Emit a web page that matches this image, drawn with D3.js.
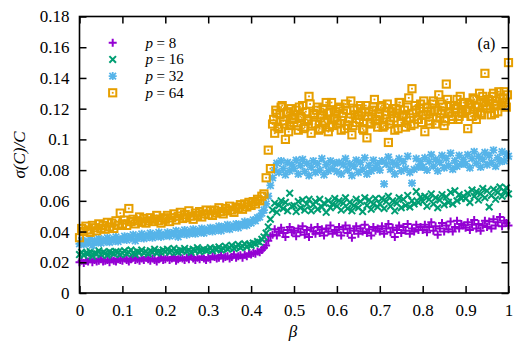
<!DOCTYPE html>
<html>
<head>
<meta charset="utf-8">
<script src="https://cdn.jsdelivr.net/npm/d3@7"></script>
<style>
  body { margin: 0; background: #fff; }
  svg { display: block; font-family: "Liberation Serif", "Times New Roman", "DejaVu Serif", serif; }
</style>
</head>
<body>
<div id="chart"></div>
<script>
// Data (sigma(C)/C in units of 1e-3), beta sampled every 0.005 from 0 to 1
var p8 = [
  20, 21, 19.5, 21, 20.5, 22, 20, 21.5, 20.5, 21, 22, 20.5, 21, 21.5, 20, 22, 21, 20.5, 22, 21.5,
  21, 22.5, 21.5, 20.5, 22, 23, 21.5, 22, 21, 22.5, 21.5, 23, 22, 21, 22.5, 21.5, 20.5, 22, 23, 21.5,
  22, 23, 21.5, 22.5, 23.5, 21, 22, 23, 22.5, 21.5, 23, 22, 24, 22.5, 21.5, 23, 22, 23.5, 22.5, 21.5,
  23, 22, 24, 23.5, 22.5, 23, 24.5, 22.5, 23.5, 24, 22.5, 23.5, 25, 23, 24, 24.5, 23, 25, 24, 25.5,
  25, 26, 25.5, 27, 26.5, 28, 29.5, 31, 34, 37,
  38, 41.5, 37.5, 40, 42.5, 39, 36.5, 41, 43, 39.5,
  40.5, 37, 42, 39.5, 43.5, 38, 41, 36.5, 42.5, 40, 38.5, 43, 39, 41.5, 37.5, 42, 40, 44, 38.5, 41,
  39.5, 43, 37.5, 41.5, 44, 39, 42, 36, 40.5, 43.5, 38.5, 42, 40, 44.5, 39, 41.5, 37.5, 43, 40.5, 42,
  40, 43.5, 38.5, 42, 45, 39.5, 42.5, 36.5, 41, 44, 39, 43, 40.5, 45, 38.5, 42, 40, 44.5, 41, 43,
  41, 44.5, 39.5, 43, 46, 40.5, 43.5, 38, 42, 45.5, 40, 44, 41.5, 46.5, 40, 43, 47, 42, 45, 44,
  42.5, 46, 41, 44.5, 47.5, 42, 45, 40.5, 44, 47, 43, 46.5, 42, 48, 44, 46, 49.5, 43.5, 47, 45.5, 44
];
var p16 = [
  25, 26.5, 24.5, 26, 25.5, 27, 24, 26, 25.5, 27.5, 25, 26.5, 26, 24.5, 27, 26, 25.5, 27, 26.5, 25,
  26, 27.5, 25.5, 26.5, 28, 26, 25, 27, 26.5, 28, 26, 27, 25.5, 27.5, 26.5, 28.5, 26, 27, 26.5, 28,
  27, 28.5, 26.5, 27.5, 29, 27, 26.5, 28, 27.5, 29, 27, 28, 26.5, 28.5, 27.5, 29.5, 27, 28, 28.5, 27.5,
  28, 29.5, 27.5, 29, 28.5, 30, 28, 29, 30.5, 28.5, 29.5, 31, 29, 30, 31.5, 29.5, 30.5, 32, 30, 31.5,
  31, 32.5, 32, 33.5, 33, 35, 36.5, 39, 43, 48,
  54, 58.5, 52.5, 57, 60, 55, 59, 53.5, 65, 56.5,
  57, 53, 59.5, 55.5, 60.5, 54, 58, 61, 53.5, 57.5, 59.5, 54.5, 61, 56, 58.5, 52.5, 60, 55.5, 58, 61.5,
  56.5, 60, 54, 58.5, 62, 55, 59, 53.5, 57, 61, 55.5, 59.5, 53, 62, 57, 60.5, 54.5, 58, 61.5, 56,
  58, 61.5, 55, 59.5, 63, 56.5, 60, 53.5, 58.5, 62, 55.5, 61, 57, 63.5, 56, 60, 58, 66, 59, 62.5,
  59.5, 63, 56.5, 61, 64.5, 58, 62, 55.5, 60.5, 64, 57.5, 62.5, 59, 65.5, 58, 66.5, 60, 64, 61.5, 63,
  61.5, 65, 59, 67, 63, 66, 60.5, 64.5, 68, 62, 66.5, 56, 63.5, 67.5, 61, 65.5, 69, 63, 66, 68.5, 64.5
];
var p32 = [
  32, 34, 31.5, 33.5, 32.5, 35, 31, 34, 33, 35.5, 32.5, 34.5, 33.5, 36, 33, 35, 34, 36.5, 33.5, 35,
  35, 37, 34.5, 36.5, 35.5, 38, 34, 37, 36, 38.5, 35.5, 37.5, 36.5, 39, 36, 38, 37, 39.5, 36.5, 38,
  37.5, 39.5, 37, 39, 38, 40.5, 36.5, 39.5, 38.5, 41, 38, 40, 39, 41.5, 38.5, 40.5, 39.5, 42, 39, 41,
  40.5, 42.5, 40, 42, 41, 43.5, 40.5, 43, 42, 44.5, 41.5, 43.5, 43, 45, 42.5, 44.5, 44, 46.5, 44, 46,
  45.5, 47.5, 47, 49, 49.5, 52, 54, 58, 63, 70,
  75, 80, 84.5, 78.5, 86, 81, 77, 85, 79.5, 83.5,
  81, 86.5, 77.5, 83, 87, 79, 84.5, 76.5, 82, 86, 78.5, 84, 80, 87.5, 77, 83.5, 79.5, 86, 81, 84.5,
  79, 85, 77.5, 83.5, 87.5, 80, 84, 76.5, 82.5, 86.5, 78.5, 85, 80.5, 88, 77.5, 83, 79.5, 86.5, 81.5, 84,
  80, 86, 71, 84, 88.5, 80.5, 85, 77.5, 83.5, 87.5, 79.5, 85.5, 81, 89, 78.5, 71.5, 80.5, 87.5, 82, 85.5,
  82, 88, 80, 85.5, 90, 82.5, 87, 79.5, 85, 89.5, 81.5, 87.5, 83, 91, 80.5, 86, 82.5, 89.5, 84, 87,
  84, 90, 81.5, 87.5, 92, 84.5, 89, 82, 87, 91.5, 83.5, 89.5, 85, 93, 82.5, 88, 85.5, 92, 86, 90.5, 89
];
var p64 = [
  36, 42, 40, 43.5, 41, 39.5, 44, 42.5, 40.5, 45, 42, 44, 41.5, 46, 43, 45.5, 42, 47, 44, 52,
  45, 47.5, 44, 55, 46.5, 48, 45, 47, 49.5, 46, 48.5, 45.5, 47, 49, 46.5, 48, 50.5, 47, 45.5, 49,
  48, 50.5, 46.5, 49, 51.5, 47.5, 50, 52.5, 48.5, 51, 49, 53.5, 50, 48, 52, 50.5, 53, 49.5, 51.5, 54,
  51, 53.5, 50.5, 54, 52, 55.5, 53, 51.5, 55, 53.5, 56.5, 54, 52.5, 56, 55, 57.5, 54.5, 58, 56, 59,
  57, 59.5, 58, 61, 60, 63, 64.5, 75, 93, 81,
  110, 104, 117, 107, 121, 112, 100, 118, 109, 114,
  111, 119, 106, 115, 122, 108, 113, 128, 104, 117, 110, 121, 107, 116, 112, 124, 105, 118, 109, 114,
  112, 120, 106, 117, 123, 109, 114, 103, 119, 111, 116, 122, 107, 115, 101, 118, 110, 121, 113, 108,
  115, 122, 109, 118, 98, 112, 120, 106, 117, 124, 111, 116, 108, 121, 114, 133, 110, 119, 113, 123,
  116, 105, 121, 112, 118, 125, 110, 119, 114, 123, 109, 136, 117, 122, 113, 120, 126, 115, 118, 124,
  119, 107, 123, 115, 126, 113, 121, 117, 128, 143, 120, 125, 116, 130, 122, 118, 127, 124, 131, 121, 150
];
// extra p=64 samples in the upper phase, at beta = 0.4525 ... 0.9975
var p64mid = [
  113, 119, 108, 116, 122, 110, 117, 105, 120, 113,
  116, 109, 121, 114, 107, 118, 112, 123, 110, 116,
  119, 106, 114, 120, 111, 117, 108, 124, 113, 118,
  110, 121, 115, 107, 119, 112, 125, 109, 116, 120,
  113, 118, 106, 122, 115, 111, 119, 126, 112, 117,
  121, 108, 116, 123, 110, 118, 114, 120, 107, 124,
  115, 119, 112, 127, 109, 117, 122, 113, 120, 111,
  125, 116, 118, 110, 123, 119, 114, 129, 117, 121,
  112, 126, 118, 115, 122, 120, 113, 128, 117, 124,
  119, 123, 115, 127, 121, 118, 130, 116, 124, 122,
  126, 120, 128, 117, 125, 131, 122, 127, 124, 129
];
var labels = ["8", "16", "32", "64"];
var colors = ["#9400d3", "#009e73", "#56b4e9", "#e69f00"];
var xTicks = [0, 0.1, 0.2, 0.3, 0.4, 0.5, 0.6, 0.7, 0.8, 0.9, 1];
var yTicks = [0, 0.02, 0.04, 0.06, 0.08, 0.1, 0.12, 0.14, 0.16, 0.18];

var FONT = "'Liberation Serif', 'Times New Roman', 'DejaVu Serif', serif";
var W = 532, H = 346;
var margin = {top: 16.5, right: 23.5, bottom: 53, left: 79.5},
    width = W - margin.left - margin.right,
    height = H - margin.top - margin.bottom;

var svg = d3.select("#chart").append("svg")
    .attr("width", W).attr("height", H)
    .style("font-family", FONT);

var g = svg.append("g")
    .attr("transform", "translate(" + margin.left + "," + margin.top + ")");

var x = d3.scaleLinear().domain([0, 1]).range([0, width]);
var y = d3.scaleLinear().domain([0, 0.18]).range([height, 0]);

var step = 1 / (p8.length - 1);
var beta = d3.range(p8.length).map(function(i) { return i * step; });
var betaMid = d3.range(p64mid.length).map(function(i) { return 0.4525 + i * step; });

function pts(vals, bs) {
  return vals.map(function(v, i) { return {b: bs[i], v: v / 1000}; });
}
var series = [
  pts(p8, beta),
  pts(p16, beta),
  pts(p32, beta),
  pts(p64, beta).concat(pts(p64mid, betaMid))
];

// marker shapes, gnuplot style
function drawMarker(sel, k) {
  var c = colors[k];
  if (k == 0) {
    sel.append("path").attr("d", "M-4,0H4M0,-4V4")
      .attr("stroke", c).attr("stroke-width", 2).attr("fill", "none");
  } else if (k == 1) {
    sel.append("path").attr("d", "M-3.3,-3.3L3.3,3.3M-3.3,3.3L3.3,-3.3")
      .attr("stroke", c).attr("stroke-width", 2).attr("fill", "none");
  } else if (k == 2) {
    sel.append("path").attr("d", "M-4,0H4M0,-4V4M-3.3,-3.3L3.3,3.3M-3.3,3.3L3.3,-3.3")
      .attr("stroke", c).attr("stroke-width", 1.8).attr("fill", "none");
  } else {
    sel.append("rect").attr("x", -3.6).attr("y", -3.6).attr("width", 7.2).attr("height", 7.2)
      .attr("stroke", c).attr("stroke-width", 2).attr("fill", "none");
    sel.append("rect").attr("x", -0.9).attr("y", -0.9).attr("width", 1.8).attr("height", 1.8)
      .attr("fill", c);
  }
}

series.forEach(function(data, k) {
  g.append("g").selectAll("g")
    .data(data)
    .enter()
    .append("g")
      .attr("transform", function(d) {
        return "translate(" + x(d.b) + "," + y(d.v) + ")";
      })
      .each(function() { drawMarker(d3.select(this), k); });
});

// axes with inward ticks, mirrored on top/right
var fmt = d3.format("~g");
var ax = g.append("g").attr("transform", "translate(0," + height + ")")
  .call(d3.axisBottom(x).tickValues(xTicks).tickFormat(fmt).tickSize(-7).tickPadding(11));
var ay = g.append("g")
  .call(d3.axisLeft(y).tickValues(yTicks).tickFormat(fmt).tickSize(-7).tickPadding(10));
var at = g.append("g")
  .call(d3.axisTop(x).tickValues(xTicks).tickFormat("").tickSize(-7));
var ar = g.append("g").attr("transform", "translate(" + width + ",0)")
  .call(d3.axisRight(y).tickValues(yTicks).tickFormat("").tickSize(-7));

[ax, ay, at, ar].forEach(function(a) {
  a.attr("font-family", FONT);
  a.select(".domain").remove();
  a.selectAll("line").attr("stroke", "#000").attr("stroke-width", 1.5);
  a.selectAll("text").attr("font-size", 17).attr("fill", "#000");
});

g.append("rect")
  .attr("width", width).attr("height", height)
  .attr("fill", "none").attr("stroke", "#000").attr("stroke-width", 1.6);

// legend
var leg = g.append("g");
labels.forEach(function(l, k) {
  var yy = 26.2 + k * 16.7;
  var m = leg.append("g").attr("transform", "translate(" + 33.2 + "," + yy + ")");
  drawMarker(m, k);
  leg.append("text").attr("x", 66).attr("y", yy + 5)
    .attr("font-size", 15).attr("font-style", "italic").text("p");
  leg.append("text").attr("x", 77).attr("y", yy + 5)
    .attr("font-size", 15).text("= " + l);
});

g.append("text")
  .attr("x", 407).attr("y", 32)
  .attr("text-anchor", "middle").attr("font-size", 16)
  .text("(a)");

// axis titles
svg.append("text")
  .attr("x", 293).attr("y", 337)
  .attr("text-anchor", "middle").attr("font-size", 17)
  .attr("font-style", "italic")
  .text("β");

svg.append("text")
  .attr("transform", "translate(25,155) rotate(-90)")
  .attr("text-anchor", "middle").attr("font-size", 17)
  .attr("font-style", "italic")
  .text("σ(C)/C");
</script>
</body>
</html>
